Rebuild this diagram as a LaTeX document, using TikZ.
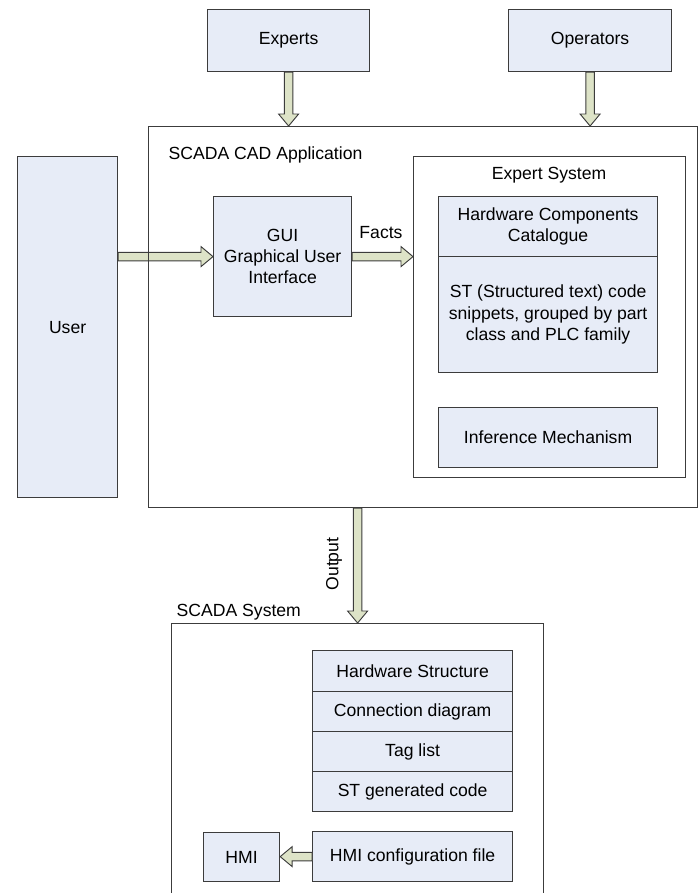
\documentclass[tikz,border=0pt]{standalone}
\usepackage{fontspec}
\setmainfont{Liberation Sans}
\usetikzlibrary{calc}
\definecolor{boxfill}{RGB}{231,236,247}
\definecolor{arrfill}{RGB}{221,227,199}
\definecolor{edge}{RGB}{60,60,60}
\newcommand{\fatarrow}[2]{%
  \coordinate (fa) at ($(#2)!9pt!(#1)$);
  \draw[arrbody] ($(#1)!3.2pt!90:(#2)$) -- ($(fa)!3.2pt!90:(#2)$) -- ($(fa)!7.5pt!90:(#2)$) -- (#2) -- ($(fa)!7.5pt!-90:(#2)$) -- ($(fa)!3.2pt!-90:(#2)$) -- ($(#1)!3.2pt!-90:(#2)$) -- cycle;}

\begin{document}
\begin{tikzpicture}[x=0.75pt,y=0.75pt,yscale=-1,xscale=1,
  font=\fontsize{13.2}{16}\selectfont,
  wh/.style 2 args={minimum width=#1*0.75pt,minimum height=#2*0.75pt},
  bluebox/.style={draw=edge,line width=0.9pt,fill=boxfill,inner sep=2pt,align=center,anchor=north west},
  framebox/.style={draw=edge,line width=0.9pt,inner sep=0pt,anchor=north west},
  arrbody/.style={draw=edge,line width=0.7pt,fill=arrfill,line join=miter}]

\useasboundingbox (0,0) rectangle (699,893);
\clip (0,0) rectangle (699,893);

\node[bluebox,wh={162}{62}] (exp) at (207,9) {Experts};
\node[bluebox,wh={163}{62}] (opr) at (508,9) {Operators};
\node[bluebox,wh={100}{341}] (usr) at (17,156) {User};
\node[bluebox,wh={138}{120}] (gui) at (213,196) {GUI\\Graphical User\\Interface};
\coordinate (gin) at (usr.east |- gui.west);
\fatarrow{gin}{gui.west}

\node[framebox,wh={549}{381}] (cad) at (148,126) {};
\node[anchor=west] (cadlbl) at (164,155) {SCADA CAD Application};
\node[framebox,wh={272}{321}] (es) at (413,156) {};
\node (eslbl) at (549,175) {Expert System};
\node[bluebox,wh={219}{60}] (hcc) at (438,196) {Hardware Components\\Catalogue};
\node[bluebox,wh={219}{116}] (st) at (438,256) {ST (Structured text) code\\snippets, grouped by part\\class and PLC family};
\node[bluebox,wh={219}{60}] (inf) at (438,407) {Inference Mechanism};

\coordinate (eout) at (gui.east -| es.west);
\fatarrow{gui.east}{eout}
\node (factlbl) at (381,233) {Facts};
\coordinate (e1) at (exp.south |- cad.north);
\fatarrow{exp.south}{e1}
\coordinate (o1) at (opr.south |- cad.north);
\fatarrow{opr.south}{o1}

\node[framebox,wh={372}{290}] (scs) at (171,623) {};
\node[anchor=west] (scslbl) at (172,612) {SCADA System};
\coordinate (c1) at (scs.north |- cad.south);
\fatarrow{c1}{scs.north}
\node[rotate=90] (outlbl) at (334,564) {Output};

\node[bluebox,wh={200}{41}] (hws) at (312,650) {Hardware Structure};
\node[bluebox,wh={200}{40}] (cdg) at (312,691) {Connection diagram};
\node[bluebox,wh={200}{40}] (tag) at (312,731) {Tag list};
\node[bluebox,wh={200}{40}] (stc) at (312,771) {ST generated code};
\node[bluebox,wh={200}{50}] (hcf) at (312,831) {HMI configuration file};
\node[bluebox,wh={76}{49}] (hmi) at (203,832) {HMI};
\coordinate (h1) at (hcf.west -| hmi.east);
\fatarrow{hcf.west}{h1}

\end{tikzpicture}
\end{document}
